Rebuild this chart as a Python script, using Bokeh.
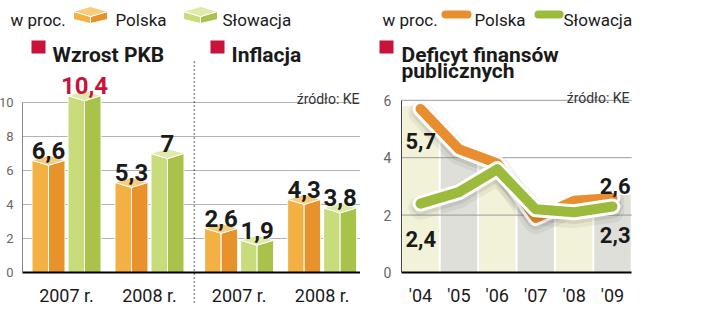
import numpy as np
from bokeh.plotting import figure
from bokeh.layouts import row
from bokeh.models import Range1d, LinearAxis, FixedTicker
from bokeh.core.properties import value
from bokeh.embed import file_html
from bokeh.resources import INLINE

# ---------------- data ----------------
bar_groups = ["Wzrost PKB", "Inflacja"]
bar_years = ["2007 r.", "2008 r.", "2007 r.", "2008 r."]
polska_bars = [6.6, 5.3, 2.6, 4.3]
slowacja_bars = [10.4, 7.0, 1.9, 3.8]
left_yticks = [0, 2, 4, 6, 8, 10]

line_years = ["'04", "'05", "'06", "'07", "'08", "'09"]
polska_deficit = [5.7, 4.3, 3.8, 1.9, 2.5, 2.6]
slowacja_deficit = [2.4, 2.8, 3.6, 2.2, 2.1, 2.3]
right_yticks = [0, 2, 4, 6]

series_names = ["Polska", "Słowacja"]
unit_label = "w proc."
source_label = "źródło: KE"
deficit_title = ["Deficyt finansów", "publicznych"]

# ---------------- styles ----------------
FONT = "Roboto"
INK = "#1a1a1a"
CRIMSON = "#c8133b"
PL_FRONT, PL_SIDE, PL_TOP = "#f3b043", "#e8922b", "#f8cc7a"
SK_FRONT, SK_SIDE, SK_TOP = "#c9dc7c", "#a9c24a", "#dfeaa8"
PL_LINE, SK_LINE = "#e88e2e", "#9cbb3c"
COL_A, COL_B = "#f2f2d8", "#dfdfda"
GRID = "#b4b4b4"

W, H = 360, 323


def fmt(v):
    return f"{v:g}".replace(".", ",")


def box(cx, hw, top, d, bottom, dbot=0.0):
    left = ([cx - hw, cx - hw, cx, cx], [bottom, top, top - d, bottom - dbot])
    right = ([cx, cx, cx + hw, cx + hw], [bottom - dbot, top - d, top, bottom])
    lid = ([cx - hw, cx, cx + hw, cx], [top, top + d, top, top - d])
    return [left, right, lid]


# ================= left panel =================
L_SX, L_CX0, L_SY, L_Y0 = 83.0, 66.0, 17.0, 272.0


def lx(px):
    return (px - L_CX0) / L_SX


def ly(py):
    return (L_Y0 - py) / L_SY


pl = figure(width=W, height=H, x_range=Range1d(lx(0), lx(W)), y_range=Range1d(ly(H), ly(0)),
            output_backend="svg", toolbar_location=None, x_axis_location=None,
            y_axis_location=None, min_border=0, outline_line_color=None)
pl.grid.visible = False

group_pos = [0.0, 1.0, 2.08, 3.08]
dodge = 18 / L_SX
hw = 16.5 / L_SX
dtop = 5 / L_SY

# grid lines
gy = [t for t in left_yticks if t > 0]
pl.segment(x0=[lx(22)] * len(gy), x1=[lx(360)] * len(gy), y0=gy, y1=gy,
           line_color=GRID, line_width=1)
# separator
sep_x = (group_pos[1] + group_pos[2]) / 2
pl.segment(x0=[sep_x], x1=[sep_x], y0=[ly(302)], y1=[ly(58)], line_color="#333333",
           line_width=1.6, line_dash="1 3")

xs, ys, cols = [], [], []
for g, vp, vs in zip(group_pos, polska_bars, slowacja_bars):
    for cx, v, c in ((g - dodge, vp, (PL_FRONT, PL_SIDE, PL_TOP)),
                     (g + dodge, vs, (SK_FRONT, SK_SIDE, SK_TOP))):
        for (px_, py_), cc in zip(box(cx, hw, v, dtop, 0.0), c):
            xs.append(px_)
            ys.append(py_)
            cols.append(cc)
pl.patches(xs=xs, ys=ys, fill_color=cols, line_color="white", line_width=1)

all_vals = polska_bars + slowacja_bars
vmax = max(all_vals)
lab_x = [g - dodge for g in group_pos] + [g + dodge for g in group_pos]
lab_c = [CRIMSON if v == vmax else INK for v in all_vals]
pl.text(x=lab_x, y=all_vals, text=[fmt(v) for v in all_vals], text_align="center",
        text_baseline="alphabetic", y_offset=-10, text_font=value(FONT),
        text_font_style="bold", text_font_size="24px", text_color=lab_c)

# axes
yax = LinearAxis(fixed_location=lx(22), ticker=FixedTicker(ticks=left_yticks), bounds=(0, 10),
                 axis_line_color="#888888", major_tick_line_color=None,
                 minor_tick_line_color=None, major_label_text_font=FONT,
                 major_label_text_font_size="13px", major_label_text_color="#666666",
                 major_label_standoff=3)
pl.add_layout(yax, "left")
xax = LinearAxis(fixed_location=0, ticker=FixedTicker(ticks=group_pos),
                 major_label_overrides={g: t for g, t in zip(group_pos, bar_years)},
                 bounds=(lx(22), lx(360)), axis_line_color="black", axis_line_width=2,
                 major_tick_line_color=None, minor_tick_line_color=None,
                 major_label_text_font=FONT, major_label_text_font_size="18px",
                 major_label_text_color=INK, major_label_standoff=6)
pl.add_layout(xax, "below")

# header
pl.text(x=[lx(10)], y=[ly(19)], text=[unit_label], text_font=value(FONT),
        text_font_size="17px", text_color=INK, text_baseline="alphabetic")
icon_xs, icon_ys, icon_c = [], [], []
for icx, c in ((90, (PL_FRONT, PL_SIDE, PL_TOP)), (200, (SK_FRONT, SK_SIDE, SK_TOP))):
    for (px_, py_), cc in zip(box(lx(icx), 17 / L_SX, ly(11), 5 / L_SY, ly(19), 4 / L_SY), c):
        icon_xs.append(px_)
        icon_ys.append(py_)
        icon_c.append(cc)
pl.patches(xs=icon_xs, ys=icon_ys, fill_color=icon_c, line_color="white", line_width=1)
pl.text(x=[lx(115), lx(222)], y=[ly(19)] * 2, text=series_names, text_font=value(FONT),
        text_font_size="17px", text_color=INK, text_baseline="alphabetic")
pl.quad(left=[lx(31), lx(210)], right=[lx(45), lx(224)], top=[ly(40)] * 2,
        bottom=[ly(53)] * 2, fill_color=CRIMSON, line_color=None)
pl.text(x=[lx(52), lx(231)], y=[ly(54)] * 2, text=bar_groups, text_font=value(FONT),
        text_font_style="bold", text_font_size="21px", text_color=INK,
        text_baseline="alphabetic")
pl.text(x=[lx(359)], y=[ly(98)], text=[source_label], text_font=value(FONT),
        text_font_size="14px", text_color="#333333", text_align="right",
        text_baseline="alphabetic")

# ================= right panel =================
R_SX, R_CX0, R_SY, R_Y0 = 38.4, 60.0, 28.7, 272.0


def rx(px):
    return (px - R_CX0) / R_SX


def ry(py):
    return (R_Y0 - py) / R_SY


pr = figure(width=W, height=H, x_range=Range1d(rx(0), rx(W)), y_range=Range1d(ry(H), ry(0)),
            output_backend="svg", toolbar_location=None, x_axis_location=None,
            y_axis_location=None, min_border=0, outline_line_color=None)
pr.grid.visible = False

xi = np.arange(len(line_years), dtype=float)
pol = np.array(polska_deficit)
gap = 1.0 / R_SX
cxs, cys, ccs = [], [], []
for i in range(len(line_years)):
    l, r = i - 0.5 + gap, i + 0.5 - gap
    pts = [l, float(i), r]
    tops = [float(np.interp(p, xi, pol)) + 0.1 for p in pts]
    cxs.append([l, l, float(i), r, r])
    cys.append([0, tops[0], tops[1], tops[2], 0])
    ccs.append(COL_A if i % 2 == 0 else COL_B)
pr.patches(xs=cxs, ys=cys, fill_color=ccs, line_color=None)

gy2 = [t for t in right_yticks if t > 0]
pr.segment(x0=[-0.5] * len(gy2), x1=[len(line_years) - 0.5] * len(gy2), y0=gy2, y1=gy2,
           line_color="#9a9a9a", line_width=1)

sk = np.array(slowacja_deficit)
for series, col in ((pol, PL_LINE), (sk, SK_LINE)):
    pr.line(xi, series - 0.14, line_width=24, line_color="black", line_alpha=0.05,
            line_join="round", line_cap="round")
    pr.line(xi, series - 0.1, line_width=18, line_color="black", line_alpha=0.07,
            line_join="round", line_cap="round")
    pr.line(xi, series, line_width=16, line_color="white", line_join="round",
            line_cap="round")
    pr.line(xi, series, line_width=10, line_color=col, line_join="round", line_cap="round")

n = len(line_years) - 1
pr.text(x=[0, 0, n, n], y=[polska_deficit[0], slowacja_deficit[0], polska_deficit[n],
                           slowacja_deficit[n]],
        text=[fmt(polska_deficit[0]), fmt(slowacja_deficit[0]), fmt(polska_deficit[n]),
              fmt(slowacja_deficit[n])],
        x_offset=[-15, -15, 18, 18], y_offset=[32, 35, -12, 29],
        text_align=["left", "left", "right", "right"], text_baseline="alphabetic",
        text_font=value(FONT), text_font_style="bold", text_font_size="22px",
        text_color=INK)

yax2 = LinearAxis(fixed_location=-0.5, ticker=FixedTicker(ticks=right_yticks), bounds=(0, 6),
                  axis_line_color="#444444", major_tick_line_color=None,
                  minor_tick_line_color=None, major_label_text_font=FONT,
                  major_label_text_font_size="14px", major_label_text_color="#666666",
                  major_label_standoff=4)
pr.add_layout(yax2, "left")
xax2 = LinearAxis(fixed_location=0, ticker=FixedTicker(ticks=list(range(len(line_years)))),
                  major_label_overrides={i: t for i, t in enumerate(line_years)},
                  bounds=(-0.5, len(line_years) - 0.5), axis_line_color="black",
                  axis_line_width=2, major_tick_line_color=None, minor_tick_line_color=None,
                  major_label_text_font=FONT, major_label_text_font_size="18px",
                  major_label_text_color=INK, major_label_standoff=6)
pr.add_layout(xax2, "below")

pr.text(x=[rx(22)], y=[ry(19)], text=[unit_label], text_font=value(FONT),
        text_font_size="17px", text_color=INK, text_baseline="alphabetic")
pr.segment(x0=[rx(85), rx(178)], x1=[rx(107), rx(199)], y0=[ry(14)] * 2, y1=[ry(14)] * 2,
           line_color=[PL_LINE, SK_LINE], line_width=8, line_cap="round")
pr.text(x=[rx(114), rx(203)], y=[ry(19)] * 2, text=series_names, text_font=value(FONT),
        text_font_size="17px", text_color=INK, text_baseline="alphabetic")
pr.quad(left=[rx(19)], right=[rx(33)], top=[ry(40)], bottom=[ry(53)], fill_color=CRIMSON,
        line_color=None)
pr.text(x=[rx(41), rx(41)], y=[ry(54), ry(70)], text=deficit_title, text_font=value(FONT),
        text_font_style="bold", text_font_size="21px", text_color=INK,
        text_baseline="alphabetic")
pr.text(x=[rx(269)], y=[ry(97)], text=[source_label], text_font=value(FONT),
        text_font_size="14px", text_color="#333333", text_align="right",
        text_baseline="alphabetic")

layout = row(pl, pr)
open("out.html", "w").write(file_html(layout, INLINE))
